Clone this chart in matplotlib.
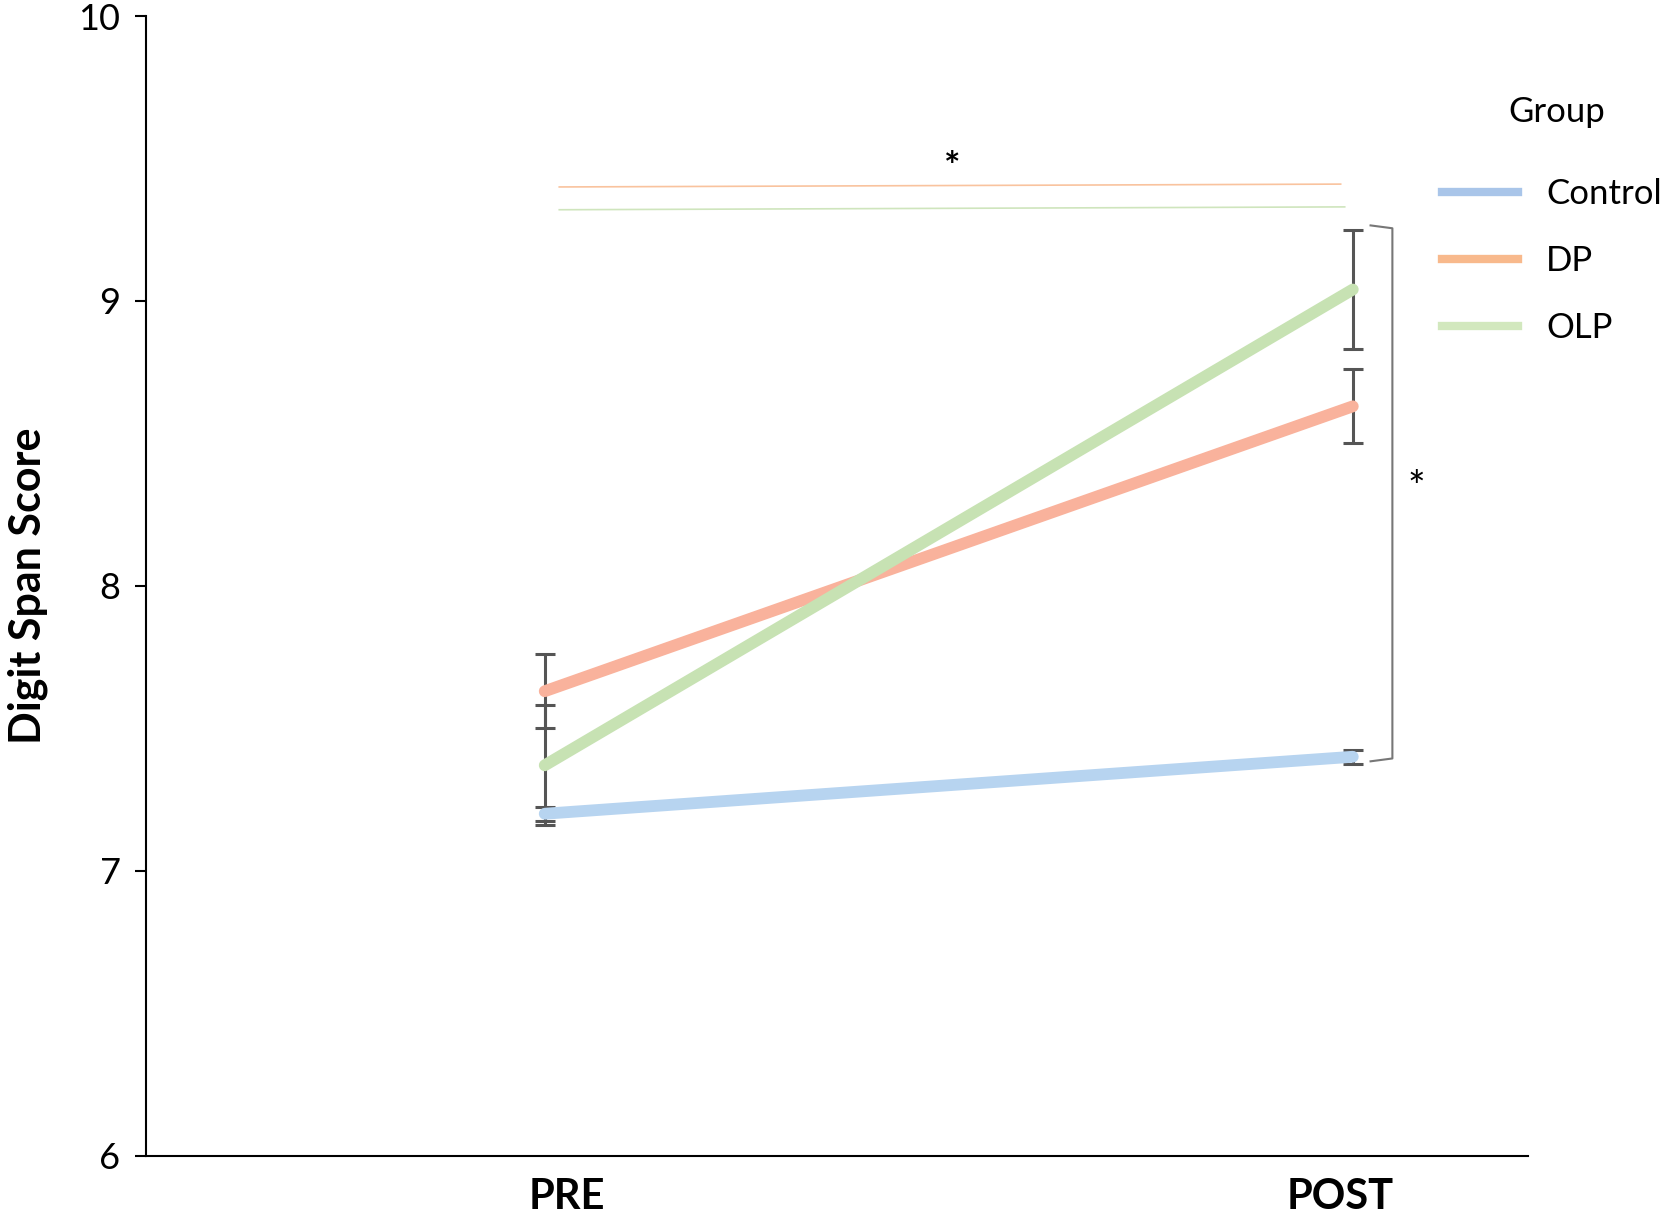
import matplotlib.pyplot as plt
from matplotlib.lines import Line2D

plt.rcParams['font.family'] = ['Lato', 'DejaVu Sans']

# data
phases = ['PRE', 'POST']
groups = ['Control', 'DP', 'OLP']
control = [7.20, 7.40]
dp = [7.63, 8.63]
olp = [7.37, 9.04]
control_err = [0.025, 0.025]
dp_err = [0.13, 0.13]
olp_err = [0.21, 0.21]

line_colors = ['#b7d4f0', '#f9b29c', '#c7e2b3']
legend_colors = ['#a9c5e9', '#f8b98c', '#d2e8be']

x = [0, 1]

fig = plt.figure(figsize=(16.67, 12.13), dpi=100)
ax = fig.add_axes([0.0873, 0.0473, 0.8294, 0.9395])

series = [control, dp, olp]
errs = [control_err, dp_err, olp_err]
for vals, err in zip(series, errs):
    ax.errorbar(x, vals, yerr=err, fmt='none', ecolor='#555555',
                elinewidth=2.2, capsize=7.5, capthick=2.2, zorder=2)
for vals, col in zip(series, line_colors):
    ax.plot(x, vals, color=col, linewidth=8.5, solid_capstyle='round', zorder=3)

# significance lines at top
ax.plot([0.018, 0.985], [9.40, 9.41], color='#f9c39e', linewidth=1.2)
ax.plot([0.018, 0.99], [9.32, 9.33], color='#cfe5bd', linewidth=1.2)
ax.text(0.504, 9.47, '*', ha='center', va='center', fontsize=28, fontweight='bold')

# bracket on right
ax.plot([1.022, 1.049, 1.049, 1.022], [9.265, 9.255, 7.394, 7.384],
        color='#777777', linewidth=1.5)
ax.text(1.079, 8.34, '*', ha='center', va='center', fontsize=30)

ax.set_xlim(-0.494, 1.217)
ax.set_ylim(6, 10)
ax.set_yticks([6, 7, 8, 9, 10])
ax.set_xticks([0.027, 0.984])
ax.set_xticklabels(phases, fontsize=30, fontweight='bold')
ax.tick_params(axis='x', length=0, pad=16)
ax.tick_params(axis='y', labelsize=26, length=8, width=1.5, pad=10)
ax.set_ylabel('Digit Span Score', fontsize=31, fontweight='bold', labelpad=22)
ax.spines['top'].set_visible(False)
ax.spines['right'].set_visible(False)
ax.spines['left'].set_linewidth(1.5)
ax.spines['bottom'].set_linewidth(1.5)

handles = [Line2D([0], [0], color=c, linewidth=6) for c in legend_colors]
fig.legend(handles, groups, loc='upper left', bbox_to_anchor=(0.865, 0.853),
           frameon=False, fontsize=25, handlelength=2.2, labelspacing=1.0,
           handletextpad=0.8, borderpad=0, borderaxespad=0)
fig.text(0.934, 0.908, 'Group', ha='center', va='center', fontsize=25)

fig.savefig('out.png', dpi=100)
